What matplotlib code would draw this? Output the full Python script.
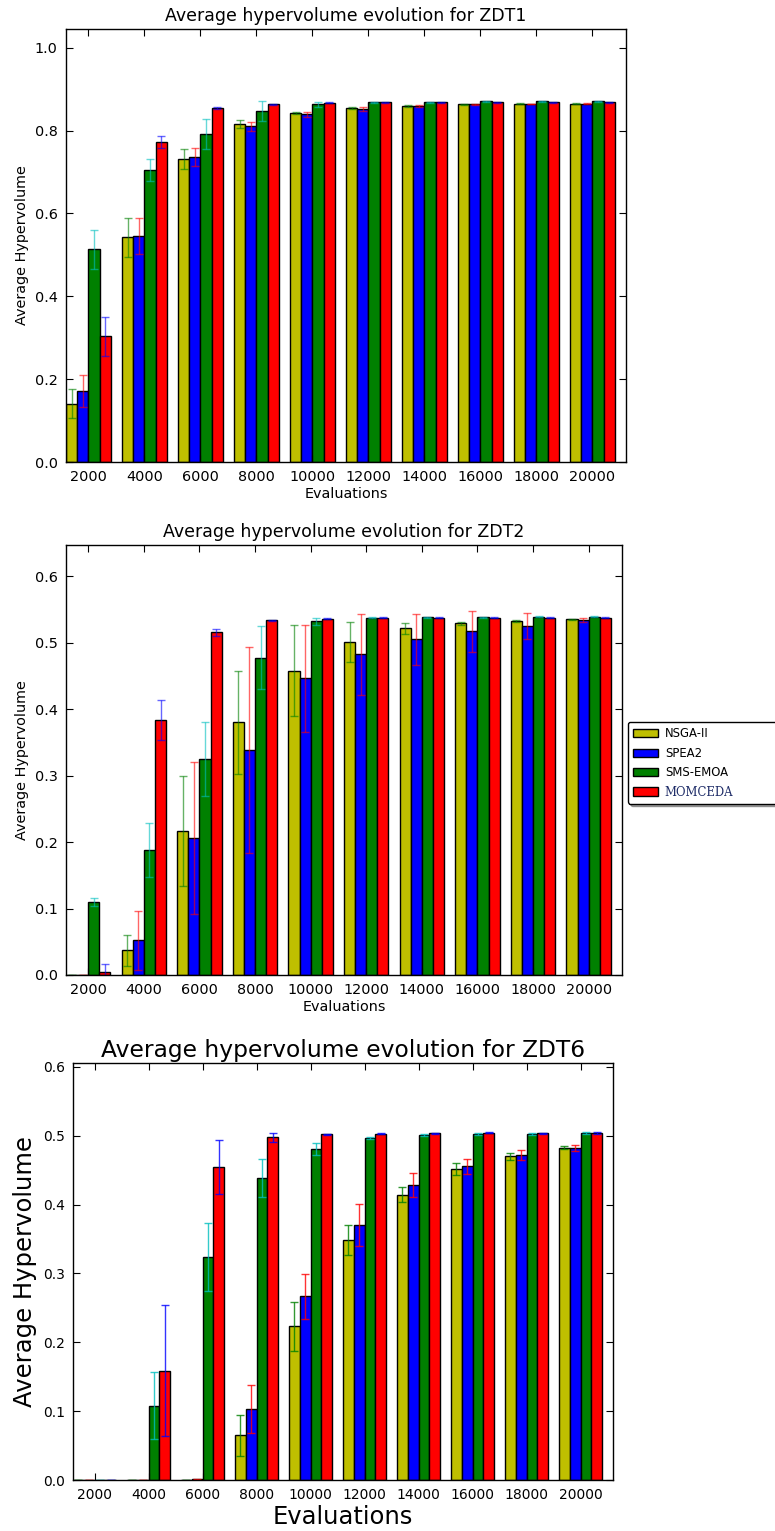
#Average hypervolume evolution of four MOEAs on ZDT1, ZDT2 and ZDT6

import numpy as np
import matplotlib.pyplot as plt

evaluations = ["2000", "4000", "6000", "8000", "10000",
               "12000", "14000", "16000", "18000", "20000"]
algorithms = ["NSGA-II", "SPEA2", "SMS-EMOA", "MOMCEDA"]

#ZDT1 mean / std
zdt1_nsga = [0.141, 0.542, 0.731, 0.816, 0.843, 0.855, 0.860, 0.863, 0.865, 0.865]
zdt1_nsga_sd = [0.035, 0.048, 0.024, 0.010, 0.003, 0.002, 0.002, 0.002, 0.001, 0.001]
zdt1_spea = [0.171, 0.546, 0.736, 0.810, 0.839, 0.853, 0.859, 0.863, 0.864, 0.865]
zdt1_spea_sd = [0.039, 0.043, 0.022, 0.011, 0.006, 0.005, 0.002, 0.002, 0.001, 0.001]
zdt1_sms = [0.514, 0.705, 0.792, 0.847, 0.863, 0.868, 0.868, 0.871, 0.871, 0.871]
zdt1_sms_sd = [0.047, 0.026, 0.036, 0.024, 0.006, 0.001, 0.002, 0.001, 0.001, 0.001]
zdt1_mom = [0.304, 0.773, 0.855, 0.863, 0.867, 0.868, 0.868, 0.868, 0.868, 0.868]
zdt1_mom_sd = [0.047, 0.015, 0.002, 0.001, 0.001, 0.001, 0.001, 0.001, 0.001, 0.001]

#ZDT2 mean / std
zdt2_nsga = [0.0, 0.037, 0.217, 0.380, 0.458, 0.501, 0.5215, 0.529, 0.5325, 0.535]
zdt2_nsga_sd = [0.0, 0.023, 0.083, 0.078, 0.068, 0.030, 0.0085, 0.002, 0.001, 0.001]
zdt2_spea = [0.0, 0.052, 0.2065, 0.3385, 0.446, 0.4825, 0.505, 0.517, 0.525, 0.534]
zdt2_spea_sd = [0.0, 0.045, 0.114, 0.155, 0.080, 0.061, 0.038, 0.031, 0.020, 0.003]
zdt2_sms = [0.110, 0.188, 0.325, 0.4775, 0.532, 0.5375, 0.538, 0.538, 0.539, 0.539]
zdt2_sms_sd = [0.006, 0.040, 0.056, 0.048, 0.005, 0.001, 0.001, 0.001, 0.001, 0.001]
zdt2_mom = [0.005, 0.384, 0.5155, 0.5335, 0.536, 0.5375, 0.5375, 0.5375, 0.5375, 0.5375]
zdt2_mom_sd = [0.012, 0.030, 0.005, 0.001, 0.001, 0.001, 0.001, 0.001, 0.001, 0.001]

#ZDT6 mean / std
zdt6_nsga = [0.0, 0.0, 0.0, 0.065, 0.223, 0.349, 0.4144, 0.452, 0.4705, 0.4826]
zdt6_nsga_sd = [0.0, 0.0, 0.0, 0.030, 0.035, 0.0215, 0.011, 0.0085, 0.005, 0.002]
zdt6_spea = [0.0, 0.0, 0.001, 0.1035, 0.267, 0.370, 0.4284, 0.4555, 0.4724, 0.482]
zdt6_spea_sd = [0.0, 0.0, 0.001, 0.0345, 0.0325, 0.0305, 0.018, 0.011, 0.007, 0.004]
zdt6_sms = [0.0, 0.108, 0.324, 0.4386, 0.481, 0.4966, 0.501, 0.5024, 0.5024, 0.504]
zdt6_sms_sd = [0.0, 0.049, 0.0495, 0.027, 0.0085, 0.001, 0.001, 0.001, 0.001, 0.001]
zdt6_mom = [0.0, 0.1586, 0.455, 0.4976, 0.502, 0.503, 0.5034, 0.5048, 0.5034, 0.504]
zdt6_mom_sd = [0.0, 0.095, 0.039, 0.006, 0.001, 0.001, 0.001, 0.001, 0.001, 0.001]

colors = ['y', 'b', 'g', 'r']
ecolors = ['g', 'r', 'c', 'b']
width = 0.2
ind = np.arange(len(evaluations))

fig = plt.figure(figsize=(7.75, 15.31), dpi=100)
fig.patch.set_facecolor('white')


def plotgraph(rect, means, stds, titlestr, yticks, tick_fs, label_fs, title_fs, title_pad, ealpha):
    ax = fig.add_axes(rect)
    bars = []
    for k in range(4):
        b = ax.bar(ind + k*width, means[k], width, align='edge', color=colors[k],
                   edgecolor='black', linewidth=1.0, label=algorithms[k])
        ax.errorbar(ind + k*width + width/2, means[k], yerr=stds[k], fmt='none',
                    ecolor=ecolors[k], elinewidth=1.0, capsize=3, capthick=1.0, alpha=ealpha)
        bars.append(b)
    top = 1.2*max(max(m) for m in means)
    ax.set_ylim(0, top)
    ax.set_xlim(0, 10)
    ax.set_xticks(ind + 2*width)
    ax.set_xticklabels(evaluations)
    ax.set_yticks(yticks)
    ax.set_yticklabels(["%.1f" % t for t in yticks])
    ax.tick_params(direction='in', top=True, right=True, length=5, width=0.8,
                   labelsize=tick_fs, pad=6)
    ax.set_xlabel("Evaluations", fontsize=label_fs, labelpad=2)
    ax.set_ylabel("Average Hypervolume", fontsize=label_fs)
    ax.set_title(titlestr, fontsize=title_fs, pad=title_pad)
    for s in ax.spines.values():
        s.set_linewidth(1.0)
    return ax, bars


plotgraph([66/775, 1 - 462/1531, 560/775, 433/1531],
          [zdt1_nsga, zdt1_spea, zdt1_sms, zdt1_mom],
          [zdt1_nsga_sd, zdt1_spea_sd, zdt1_sms_sd, zdt1_mom_sd],
          "Average hypervolume evolution for ZDT1", np.arange(0, 1.01, 0.2),
          10.4, 10.4, 12.5, 6, 0.6)

ax2, bars2 = plotgraph([66/775, 1 - 975/1531, 556/775, 430/1531],
                       [zdt2_nsga, zdt2_spea, zdt2_sms, zdt2_mom],
                       [zdt2_nsga_sd, zdt2_spea_sd, zdt2_sms_sd, zdt2_mom_sd],
                       "Average hypervolume evolution for ZDT2", np.arange(0, 0.61, 0.1),
                       10.4, 10.4, 12.5, 6, 0.6)

plotgraph([73/775, 1 - 1480/1531, 540/775, 417/1531],
          [zdt6_nsga, zdt6_spea, zdt6_sms, zdt6_mom],
          [zdt6_nsga_sd, zdt6_spea_sd, zdt6_sms_sd, zdt6_mom_sd],
          "Average hypervolume evolution for ZDT6", np.arange(0, 0.61, 0.1),
          10.0, 17.5, 16.8, 4, 0.8)

leg = fig.legend(bars2, algorithms, loc='upper left', mode='expand',
                 bbox_to_anchor=(628/775, 1 - 800/1531, 0.25, 78/1531),
                 bbox_transform=fig.transFigure, fontsize=8.4, shadow=True,
                 fancybox=True, handlelength=2.1, handletextpad=0.6,
                 labelspacing=0.55, borderpad=0.45, borderaxespad=0, framealpha=1)
leg.get_frame().set_edgecolor('black')
leg.get_frame().set_linewidth(1.0)
mom_text = leg.get_texts()[3]
mom_text.set_family(['DejaVu Serif'])
mom_text.set_color('#1c2a66')

fig.savefig("out.png", dpi=100, facecolor='white')
